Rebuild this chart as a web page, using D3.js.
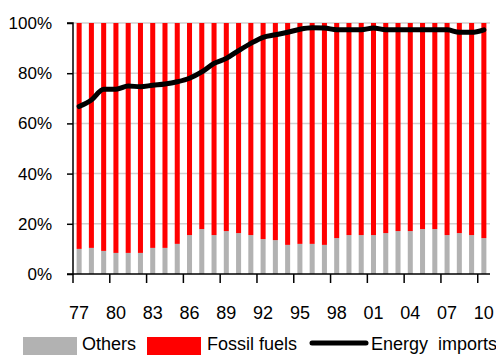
<!DOCTYPE html>
<html>
<head>
<meta charset="utf-8">
<script src="https://cdn.jsdelivr.net/npm/d3@7"></script>
<style>
  html, body { margin: 0; padding: 0; background: #fff; }
  svg { display: block; font-family: "Liberation Sans", Arial, sans-serif; }
</style>
</head>
<body>
<svg id="chart" width="496" height="355"></svg>
<script>
// ---- Data ----
const years = ["77","78","79","80","81","82","83","84","85","86","87","88","89","90","91","92","93",
               "94","95","96","97","98","99","00","01","02","03","04","05","06","07","08","09","10"];
const others = [10.0,10.4,9.2,8.4,8.4,8.4,10.4,10.4,12.0,15.5,17.9,15.5,17.1,16.3,15.5,13.9,13.5,
                11.6,12.0,12.0,11.6,14.3,15.5,15.5,15.5,16.3,17.1,17.1,17.9,17.9,15.5,16.3,15.5,14.3];
const fossilFuels = others.map(v => 100 - v);
const energyImports = [66.7,69.3,73.6,73.6,74.9,74.6,75.2,75.7,76.6,78.0,80.5,83.9,85.9,89.0,91.9,94.3,95.3,
                       96.3,97.5,98.1,98.0,97.3,97.3,97.3,98.0,97.3,97.3,97.3,97.3,97.3,97.3,96.3,96.3,97.3];
const xTickLabels = ["77","80","83","86","89","92","95","98","01","04","07","10"];
const yTicks = [0, 20, 40, 60, 80, 100];
const seriesNames = ["Others", "Fossil fuels", "Energy  imports"];

(function () {
// ---- Layout ----
const svg = d3.select("#chart");
const mLeft = 73, mRight = 490, mTop = 23, mBottom = 274;

const x = d3.scaleBand().domain(years).range([mLeft, mRight]).paddingInner(0.59).paddingOuter(0.295);
const y = d3.scaleLinear().domain([0, 100]).range([mBottom, mTop]);

// gridlines
svg.append("g").selectAll("line").data(yTicks.filter(d => d > 0)).join("line")
  .attr("x1", mLeft).attr("x2", mRight)
  .attr("y1", d => y(d)).attr("y2", d => y(d))
  .attr("stroke", "#d0d0d0").attr("stroke-width", 1.5);

// stacked bars
const rows = years.map((yr, i) => ({ year: yr, others: others[i], fossil: fossilFuels[i] }));
const stack = d3.stack().keys(["others", "fossil"])(rows);
const colors = { others: "#b2b2b2", fossil: "#ff0000" };
svg.append("g").selectAll("g").data(stack).join("g")
  .attr("fill", d => colors[d.key])
  .selectAll("rect").data(d => d).join("rect")
  .attr("x", d => x(d.data.year))
  .attr("width", x.bandwidth())
  .attr("y", d => y(d[1]))
  .attr("height", d => y(d[0]) - y(d[1]));

// line
const line = d3.line()
  .x((d, i) => x(years[i]) + x.bandwidth() / 2)
  .y(d => y(d))
  .curve(d3.curveMonotoneX);
svg.append("path").datum(energyImports)
  .attr("d", line).attr("fill", "none")
  .attr("stroke", "#000").attr("stroke-width", 5)
  .attr("stroke-linecap", "round").attr("stroke-linejoin", "round");

// y axis
const yAxis = d3.axisLeft(y).tickValues(yTicks).tickFormat(d => d + "%").tickSize(6).tickPadding(15);
const gy = svg.append("g").attr("transform", `translate(${mLeft},0)`).call(yAxis);
gy.select(".domain").attr("stroke", "#000").attr("stroke-width", 1.5).attr("d", `M-6,${mTop}H0V${mBottom}H-6`);
gy.selectAll(".tick line").attr("stroke", "#000").attr("stroke-width", 1.5);
gy.selectAll("text").attr("font-size", 17).attr("fill", "#000").attr("font-family", "Liberation Sans, Arial, sans-serif");

// x axis: ticks at left edge of every 3rd category
const step = x.step();
const xAxisG = svg.append("g");
xAxisG.append("line").attr("x1", mLeft).attr("x2", mRight).attr("y1", mBottom).attr("y2", mBottom)
  .attr("stroke", "#000").attr("stroke-width", 1.5);
const tickYears = years.filter(yr => xTickLabels.includes(yr));
xAxisG.selectAll("line.tk").data(tickYears).join("line").attr("class", "tk")
  .attr("x1", d => x(d) - (step - x.bandwidth()) / 2)
  .attr("x2", d => x(d) - (step - x.bandwidth()) / 2)
  .attr("y1", mBottom).attr("y2", mBottom + 9)
  .attr("stroke", "#000").attr("stroke-width", 1.5);
xAxisG.selectAll("text").data(tickYears).join("text")
  .attr("x", d => x(d) + x.bandwidth() / 2)
  .attr("y", 319)
  .attr("text-anchor", "middle")
  .attr("font-size", 18)
  .text(d => d);

// legend
const lg = svg.append("g").attr("font-size", 18);
lg.append("rect").attr("x", 23).attr("y", 337).attr("width", 54).attr("height", 20).attr("fill", colors.others);
lg.append("text").attr("x", 82).attr("y", 350).text(seriesNames[0]);
lg.append("rect").attr("x", 147).attr("y", 337).attr("width", 54).attr("height", 20).attr("fill", colors.fossil);
lg.append("text").attr("x", 207).attr("y", 350).text(seriesNames[1]);
lg.append("line").attr("x1", 312).attr("x2", 366).attr("y1", 343).attr("y2", 343)
  .attr("stroke", "#000").attr("stroke-width", 5).attr("stroke-linecap", "round");
lg.append("text").attr("x", 371).attr("y", 350).style("white-space", "pre").text(seriesNames[2]);
})();
</script>
</body>
</html>
